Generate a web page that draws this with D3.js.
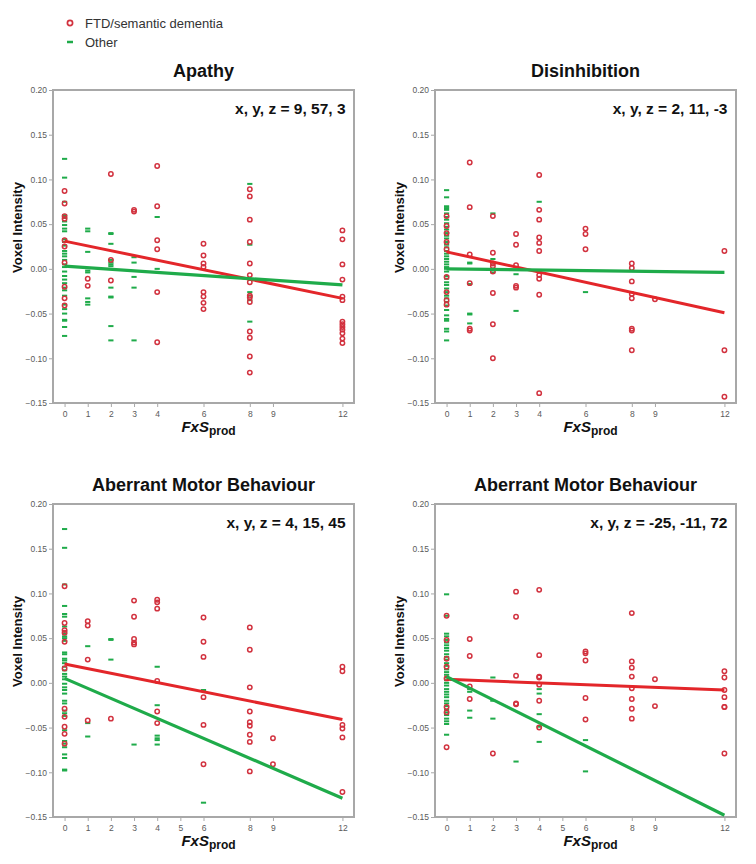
<!DOCTYPE html>
<html>
<head>
<meta charset="utf-8">
<script src="https://cdn.jsdelivr.net/npm/d3@7/dist/d3.min.js"></script>
<style>
  html, body { margin: 0; padding: 0; background: #fff; }
  svg { display: block; font-family: "Liberation Sans", Arial, sans-serif; }
</style>
</head>
<body>
<svg id="chart" width="756" height="864"></svg>
<script>
// ---------- data ----------
const legendLabels = ["FTD/semantic dementia", "Other"];
const titles = ["Apathy", "Disinhibition", "Aberrant Motor Behaviour", "Aberrant Motor Behaviour"];
const coordLabels = ["x, y, z = 9, 57, 3", "x, y, z = 2, 11, -3", "x, y, z = 4, 15, 45", "x, y, z = -25, -11, 72"];
const xTicksTop = [0, 1, 2, 3, 4, 6, 8, 9, 12];
const xTicksBottom = [0, 1, 2, 3, 4, 5, 6, 8, 9, 12];
const yTicks = [-0.15, -0.10, -0.05, 0.00, 0.05, 0.10, 0.15, 0.20];
const fitX = [0, 12];

// Apathy
const apathyFTD = [
  [0, [0.087, 0.073, 0.059, 0.056, 0.032, 0.025, 0.007, -0.020, -0.033, -0.041]],
  [1, [-0.011, -0.019]],
  [2, [0.106, 0.010, -0.013]],
  [3, [0.066, 0.064]],
  [4, [0.115, 0.070, 0.032, 0.022, -0.026, -0.082]],
  [6, [0.028, 0.015, 0.006, 0.002, -0.026, -0.031, -0.038, -0.045]],
  [8, [0.089, 0.081, 0.055, 0.030, 0.006, -0.007, -0.015, -0.030, -0.032, -0.037, -0.070, -0.077, -0.098, -0.116]],
  [12, [0.043, 0.033, 0.005, -0.012, -0.031, -0.035, -0.059, -0.062, -0.065, -0.068, -0.072, -0.078, -0.083]]
];
const apathyOther = [
  [0, [0.123, 0.102, 0.075, 0.060, 0.057, 0.053, 0.049, 0.045, 0.042, 0.033, 0.030, 0.026, 0.020, 0.017, 0.014, 0.010, 0.005, 0.002, -0.003, -0.008, -0.012, -0.016, -0.021, -0.024, -0.030, -0.040, -0.045, -0.050, -0.057, -0.058, -0.065, -0.075]],
  [1, [0.045, 0.042, 0.019, 0.001, -0.002, -0.004, -0.033, -0.037, -0.040]],
  [2, [0.040, 0.039, 0.028, 0.010, 0.007, 0.005, 0.003, -0.021, -0.031, -0.032, -0.064, -0.080]],
  [3, [0.013, 0.007, -0.009, -0.021, -0.080]],
  [4, [0.058, 0.000]],
  [8, [0.095, 0.027, -0.026, -0.030, -0.035, -0.059]]
];
const apathyFitFTD = [0.031, -0.033];
const apathyFitOther = [0.003, -0.018];

// Disinhibition
const disinhibitionFTD = [
  [0, [0.059, 0.048, 0.040, 0.030, 0.022, -0.009, -0.026, -0.035, -0.040]],
  [1, [0.119, 0.069, 0.016, -0.016, -0.067, -0.069]],
  [2, [0.059, 0.018, 0.006, 0.003, -0.003, -0.027, -0.062, -0.100]],
  [3, [0.039, 0.027, 0.004, -0.019, -0.021]],
  [4, [0.105, 0.066, 0.055, 0.035, 0.029, 0.020, -0.007, -0.011, -0.029, -0.139]],
  [6, [0.045, 0.039, 0.022]],
  [8, [0.006, 0.001, -0.014, -0.028, -0.033, -0.067, -0.069, -0.091]],
  [9, [-0.034]],
  [12, [0.020, -0.091, -0.143]]
];
const disinhibitionOther = [
  [0, [0.088, 0.080, 0.070, 0.068, 0.066, 0.062, 0.058, 0.055, 0.051, 0.047, 0.044, 0.040, 0.037, 0.034, 0.030, 0.027, 0.024, 0.020, 0.017, 0.014, 0.011, 0.008, 0.005, 0.002, 0.000, -0.003, -0.008, -0.011, -0.015, -0.018, -0.022, -0.026, -0.030, -0.033, -0.037, -0.041, -0.046, -0.052, -0.056, -0.058, -0.067, -0.070, -0.080]],
  [1, [0.007, 0.006, -0.017, -0.050, -0.051, -0.061]],
  [2, [0.062, 0.011, 0.007, -0.004]],
  [3, [-0.006, -0.047]],
  [4, [0.075]],
  [6, [-0.026]]
];
const disinhibitionFitFTD = [0.019, -0.049];
const disinhibitionFitOther = [0.000, -0.004];

// Aberrant Motor Behaviour (4, 15, 45)
const motorAFTD = [
  [0, [0.108, 0.067, 0.059, 0.056, 0.046, 0.016, -0.029, -0.038, -0.049, -0.057, -0.068]],
  [1, [0.069, 0.064, 0.026, -0.042]],
  [2, [-0.040]],
  [3, [0.092, 0.074, 0.049, 0.045, 0.043]],
  [4, [0.093, 0.090, 0.083, 0.002, -0.032, -0.045]],
  [6, [0.073, 0.046, 0.029, -0.016, -0.047, -0.091]],
  [8, [0.062, 0.037, -0.005, -0.032, -0.044, -0.048, -0.058, -0.066, -0.099]],
  [9, [-0.062, -0.091]],
  [12, [0.018, 0.013, -0.047, -0.051, -0.061, -0.122]]
];
const motorAOther = [
  [0, [0.172, 0.151, 0.110, 0.086, 0.077, 0.074, 0.063, 0.058, 0.055, 0.052, 0.050, 0.047, 0.034, 0.032, 0.027, 0.025, 0.022, 0.018, 0.014, 0.010, 0.007, 0.004, -0.001, -0.005, -0.008, -0.012, -0.020, -0.023, -0.031, -0.034, -0.037, -0.053, -0.065, -0.068, -0.072, -0.080, -0.084, -0.097, -0.098]],
  [1, [0.041, -0.045, -0.060]],
  [2, [0.049, 0.048, 0.026]],
  [3, [-0.069]],
  [4, [0.018, -0.025, -0.059, -0.062, -0.064, -0.069]],
  [6, [-0.008, -0.134]]
];
const motorAFitFTD = [0.021, -0.041];
const motorAFitOther = [0.005, -0.129];

// Aberrant Motor Behaviour (-25, -11, 72)
const motorBFTD = [
  [0, [0.075, 0.048, 0.027, 0.018, 0.005, -0.027, -0.033, -0.072]],
  [1, [0.049, 0.030, -0.004, -0.018]],
  [2, [-0.079]],
  [3, [0.102, 0.074, 0.008, -0.023, -0.024]],
  [4, [0.104, 0.031, 0.007, 0.006, -0.002, -0.020, -0.050]],
  [6, [0.035, 0.033, 0.025, -0.017, -0.041]],
  [8, [0.078, 0.024, 0.017, 0.007, -0.006, -0.018, -0.029, -0.040]],
  [9, [0.004, -0.026]],
  [12, [0.013, 0.006, -0.008, -0.016, -0.027, -0.027, -0.079]]
];
const motorBOther = [
  [0, [0.099, 0.075, 0.055, 0.052, 0.048, 0.045, 0.042, 0.039, 0.036, 0.032, 0.029, 0.026, 0.022, 0.019, 0.015, 0.012, 0.009, 0.006, 0.003, 0.000, -0.003, -0.007, -0.010, -0.013, -0.016, -0.020, -0.023, -0.026, -0.030, -0.033, -0.036, -0.040, -0.043, -0.046, -0.058]],
  [1, [-0.007, -0.010, -0.031, -0.039]],
  [2, [0.006, -0.020, -0.040]],
  [3, [-0.088]],
  [4, [-0.007, -0.012, -0.035, -0.049, -0.066]],
  [6, [-0.064, -0.099]]
];
const motorBFitFTD = [0.004, -0.008];
const motorBFitOther = [0.007, -0.148];

// ---------- build panel table ----------
const panels = [
  { title: titles[0], coord: coordLabels[0], ftd: apathyFTD, other: apathyOther, fitFTD: apathyFitFTD, fitOther: apathyFitOther, xt: xTicksTop, col: 0, row: 0 },
  { title: titles[1], coord: coordLabels[1], ftd: disinhibitionFTD, other: disinhibitionOther, fitFTD: disinhibitionFitFTD, fitOther: disinhibitionFitOther, xt: xTicksTop, col: 1, row: 0 },
  { title: titles[2], coord: coordLabels[2], ftd: motorAFTD, other: motorAOther, fitFTD: motorAFitFTD, fitOther: motorAFitOther, xt: xTicksBottom, col: 0, row: 1 },
  { title: titles[3], coord: coordLabels[3], ftd: motorBFTD, other: motorBOther, fitFTD: motorBFitFTD, fitOther: motorBFitOther, xt: xTicksBottom, col: 1, row: 1 }
];

const flatten = groups => groups.flatMap(([x, ys]) => ys.map(y => ({ x, y })));

// ---------- style ----------
const RED = "#d2323f";
const RED_LINE = "#e3262a";
const GREEN = "#1fab4a";
const FRAME = "#a8a8a8";
const TICK_TEXT = "#5a5a5a";

const svg = d3.select("#chart");

// legend
const legend = svg.append("g").attr("transform", "translate(70,0)");
legend.append("circle").attr("cx", 0).attr("cy", 23).attr("r", 2.6)
  .attr("fill", "none").attr("stroke", RED).attr("stroke-width", 1.7);
legend.append("text").attr("x", 15).attr("y", 27.5).text(legendLabels[0])
  .attr("font-size", 13).attr("fill", "#333");
legend.append("line").attr("x1", -3).attr("x2", 3).attr("y1", 42).attr("y2", 42)
  .attr("stroke", GREEN).attr("stroke-width", 2.5);
legend.append("text").attr("x", 15).attr("y", 46.5).text(legendLabels[1])
  .attr("font-size", 13).attr("fill", "#333");

const colX = [53, 435];
const rowY = [90, 504];
const W = 301, H = 313;

panels.forEach(p => {
  const left = colX[p.col], top = rowY[p.row];
  const g = svg.append("g").attr("transform", `translate(${left},${top})`);
  const x = d3.scaleLinear().domain([-0.5, 12.5]).range([0, W]);
  const y = d3.scaleLinear().domain([-0.15, 0.20]).range([H, 0]);

  // axes
  const yAxis = d3.axisLeft(y).tickValues(yTicks).tickFormat(d3.format(".2f")).tickSize(4).tickPadding(2);
  const gy = g.append("g").call(yAxis);
  const xAxis = d3.axisBottom(x).tickValues(p.xt).tickFormat(d3.format("d")).tickSize(4).tickPadding(4);
  const gx = g.append("g").attr("transform", `translate(0,${H})`).call(xAxis);
  [gx, gy].forEach(a => {
    a.select(".domain").remove();
    a.selectAll(".tick line").attr("stroke", FRAME).attr("stroke-width", 1);
    a.selectAll(".tick text").attr("fill", TICK_TEXT).attr("font-size", 8.5)
      .attr("font-family", "'Liberation Sans', Arial, sans-serif");
  });

  // frame
  g.append("rect").attr("x", 0).attr("y", 0).attr("width", W).attr("height", H)
    .attr("fill", "none").attr("stroke", FRAME).attr("stroke-width", 2);

  // other points (green dashes)
  g.append("g").selectAll("line").data(flatten(p.other)).join("line")
    .attr("x1", d => x(d.x) - 2.6).attr("x2", d => x(d.x) + 2.6)
    .attr("y1", d => y(d.y)).attr("y2", d => y(d.y))
    .attr("stroke", GREEN).attr("stroke-width", 2);

  // FTD points (red circles)
  g.append("g").selectAll("circle").data(flatten(p.ftd)).join("circle")
    .attr("cx", d => x(d.x)).attr("cy", d => y(d.y)).attr("r", 2.2)
    .attr("fill", "none").attr("stroke", RED).attr("stroke-width", 1.5);

  // fit lines
  const line = d3.line().x(d => x(d[0])).y(d => y(d[1]));
  g.append("path").datum(fitX.map((v, i) => [v, p.fitFTD[i]])).attr("d", line)
    .attr("stroke", RED_LINE).attr("stroke-width", 3).attr("fill", "none");
  g.append("path").datum(fitX.map((v, i) => [v, p.fitOther[i]])).attr("d", line)
    .attr("stroke", GREEN).attr("stroke-width", 3.2).attr("fill", "none");

  // title
  g.append("text").attr("x", W / 2).attr("y", -13).attr("text-anchor", "middle")
    .attr("font-size", 18).attr("font-weight", "bold").attr("fill", "#111").text(p.title);

  // coordinates
  g.append("text").attr("x", W - 8.5).attr("y", 23.5).attr("text-anchor", "end")
    .attr("font-size", 15.5).attr("font-weight", "bold").attr("fill", "#111").text(p.coord);

  // y label
  g.append("text").attr("transform", `translate(${-31},${H / 2 - 19}) rotate(-90)`)
    .attr("text-anchor", "middle").attr("font-size", 13).attr("font-weight", "bold")
    .attr("fill", "#111").text("Voxel Intensity");

  // x label
  const xl = g.append("text").attr("x", W / 2 + 5).attr("y", H + 29).attr("text-anchor", "middle")
    .attr("font-weight", "bold").attr("fill", "#111");
  xl.append("tspan").attr("font-style", "italic").attr("font-size", 15).text("FxS");
  xl.append("tspan").attr("font-size", 12).attr("dy", 3).text("prod");
});
</script>
</body>
</html>
